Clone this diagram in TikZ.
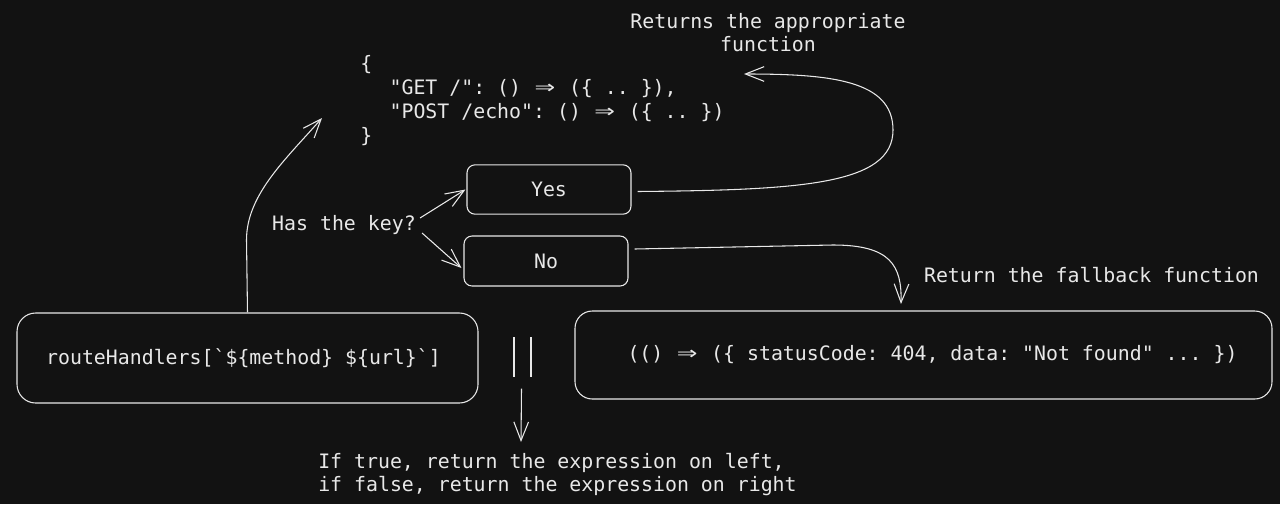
\documentclass[tikz,border=0pt]{standalone}
\usepackage{fontspec}
\usepackage{graphicx}
\setmonofont{DejaVu Sans Mono}
\usetikzlibrary{arrows.meta,calc}
\definecolor{bg}{RGB}{18,18,18}
\definecolor{ink}{RGB}{232,232,232}
\newcommand\myarrow{\makebox[1.204em]{\scalebox{1.7}[1.2]{⇒}}}
\begin{document}
\begin{tikzpicture}[x=0.75pt,y=-0.75pt,
  font=\ttfamily\fontsize{14.9}{18}\selectfont,
  lbl/.style={inner sep=0pt,text=ink},
  box/.style={draw=ink,line width=0.8pt,rounded corners=6pt,inner sep=0pt,text=ink},
  arr/.style={draw=ink,line width=0.8pt,-{Straight Barb[length=14pt,width=11pt,line width=0.8pt]}}]
\fill[bg] (0,0) rectangle (1280,504);
\useasboundingbox (0,0) rectangle (1280,504);

% texts
\node[lbl,align=left,anchor=west] (code) at (360,101)
  {\{\\\hspace*{22pt}"GET /": () \myarrow{} (\{ .. \}),\\\hspace*{22pt}"POST /echo": () \myarrow{} (\{ .. \})\\\}};
\node[lbl,align=center,font=\ttfamily\fontsize{14.9}{17.3}\selectfont] (retlbl) at (768,33)
  {Returns the appropriate\\function};
\node[lbl] (haskey) at (344,225) {Has the key?};
\node[lbl] (fblbl) at (1091.5,275) {Return the fallback function};
\node[lbl,align=left,anchor=west,font=\ttfamily\fontsize{14.9}{17.3}\selectfont] (expl) at (318,474.5)
  {If true, return the expression on left,\\if false, return the expression on right};

% boxes
\node[box,minimum width=123pt,minimum height=37pt] (yes) at (549,189.5) {Yes};
\node[box,minimum width=123pt,minimum height=37.5pt] (no) at (546,261) {No};
\node[box,rounded corners=14pt,minimum width=345.75pt,minimum height=67.5pt] (route) at (247.5,358)
  {routeHandlers[`\$\{method\} \$\{url\}`]\hspace*{6pt}};
\node[box,rounded corners=13pt,minimum width=522.75pt,minimum height=66pt] (fallback) at (923.5,355)
  {\hspace*{13.5pt}(() \myarrow{} (\{ statusCode: 404, data: "Not found" ... \})};

% the || operator
\node[inner sep=0pt,minimum width=12.75pt,minimum height=29pt] (orop) at (522.5,357) {};
\draw[ink,line width=1.5pt] (orop.north west) -- (orop.south west);
\draw[ink,line width=1.5pt] (orop.north east) -- (orop.south east);

% free ends
\coordinate (codein) at (322,118);
\coordinate (retin) at (744,74);
\coordinate (fbin) at (901,304);
\coordinate (orout) at (521,442);

% connectors
\draw[arr] (route.north) -- (246.5,240) .. controls (246.5,195) and (285,160) .. (codein);
\draw[arr] ($(haskey.east)+(4,-7)$) -- ($(yes.west)+(-1,0)$);
\draw[arr] ($(haskey.east)+(6,8)$) -- ($(no.west)+(-2,7)$);
\draw[arr] ($(yes.east)+(6,2)$) .. controls (800,190) and (893,185) .. (893,130)
  .. controls (893,80) and (830,74) .. (retin);
\draw[arr] ($(no.east)+(6,-12)$) -- (833,245) .. controls (890,245) and (902,265) .. (fbin);
\draw[arr] ($(orop.south)+(-1,12)$) -- (orout);
\end{tikzpicture}
\end{document}
